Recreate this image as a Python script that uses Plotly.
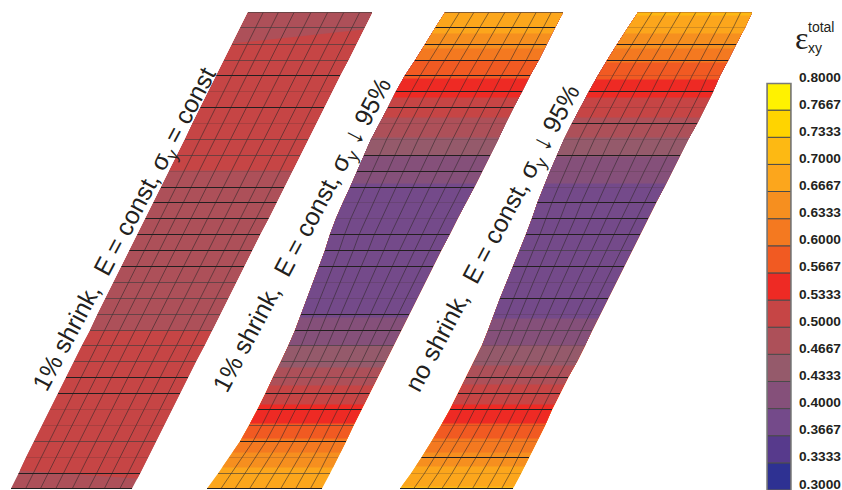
import plotly.graph_objects as go

# mesh row positions (same for all three specimens)
rows = [12,27,44,60,75,91,107,123,139,155,171,187,202,218,234,250,266,282,298,314,330,345,361,377,393,409,425,441,457,473,488]
col_fracs = [0,.122,.244,.371,.507,.642,.772,.9,1]

p1_left  = [248,240.5,232,224,216.5,208.5,200.5,192.5,185,177,169,161,153.5,145.5,137.5,129.5,121.5,113.5,105.5,97.5,90,82,74,66,58,50,42,34,26,18.5,11]
p1_right = [372,364.5,356,348,340,332,324,316,308,300,292,284,276.5,268.5,260,252,244,236,228,220,212,204.5,196,188,180,172,164,156,148,140,132]
p2_left  = [445,435.5,425,415,405,396,388,379.5,371,364,357,350,343,336,330,325,319,313,307,301,295,288.5,281,273,265.5,257.5,249,240,229,218,207]
p2_right = [563,555,546.5,538.5,530,522,513.5,505.5,498,490,482,474,466,457.5,449.5,441,433,425,417,409,401,393.5,385.5,377.5,369.5,361.5,353.5,346,338,330,322]
p3_left  = [638,628,617,607,598,589,580.5,572,564,557,550,543.5,537.5,532,526,519.5,513,506.5,500,494,488,482,474,466,458,450,441,431.5,421.5,411,400]
p3_right = [752,745,736,728,720,713,705,697,688,680,672,664,656,648,640,632,624,616,608,600,592,585,577,568,560,552,545,537,529,521,513]

# colour levels: lower bound of the band in the colour scale
levels = [0.3000,0.3333,0.3667,0.4000,0.4333,0.4667,0.5000,0.5333,0.5667,0.6000,0.6333,0.6667,0.7000,0.7333,0.7667]
level_colors = ["#2E3192","#573A8C","#744A8A","#85507A","#955A6B","#AD5059","#C64545","#EE2A24",
                "#F15A22","#F47920","#F68F1F","#FCA61C","#FDB913","#FFD400","#FFF200"]
tick_vals = [0.3000,0.3333,0.3667,0.4000,0.4333,0.4667,0.5000,0.5333,0.5667,0.6000,0.6333,0.6667,0.7000,0.7333,0.7667,0.8000]

# band index per strip: bottom boundary at left edge, at right edge, colour-level index
p1_bound_l = [43,170,330,470,488]
p1_bound_r = [29,170,330,478,488]
p1_band    = [5,6,5,6,5]
p2_bound   = [33,48,60,78,97,117,137,155,183,317,345,367,385,404,423,438,452,467,488]
p2_band    = [11,10,9,8,7,6,5,4,3,2,3,4,5,6,7,8,9,10,11]
p3_bound   = [15,33,48,62,79,97,117,137,156,183,318,345,365,384,404,423,438,452,466,486,488]
p3_band    = [12,11,10,9,8,7,6,5,4,3,2,3,4,5,6,7,8,9,10,11,12]

# style of each horizontal mesh line: 0 faint, 1 grey, 2 black
p1_lines = "1" "1" "1" "1" "2" "0" "2" "0" "1" "1" "0" "2" "2" "2" "2" "2" "2" "1" "1" "1" "1" "1" "1" "2" "2" "0" "0" "1" "0" "2" "2"
p2_lines = "1" "2" "2" "2" "2" "2" "2" "0" "0" "2" "2" "2" "0" "0" "2" "2" "2" "0" "0" "2" "2" "1" "1" "1" "2" "2" "1" "2" "0" "1" "2"
p3_lines = "0" "0" "2" "2" "0" "2" "0" "2" "0" "2" "0" "0" "2" "2" "2" "1" "2" "0" "2" "0" "1" "0" "0" "2" "2" "2" "0" "0" "2" "0" "2"

panel_labels = ["1% shrink,\u00a0 E = const, σ<sub>y</sub> = const",
                "1% shrink,\u00a0 E = const, σ<sub>y</sub> <span style='font-size:28px'>↓</span> 95%",
                "no shrink,\u00a0 E = const, σ<sub>y</sub> <span style='font-size:28px'>↓</span> 95%"]
clipped_title_letters = ["y", "g", "p", "p"]
clipped_title_x = [55, 119, 245, 372]

LINE_STYLES = {0: ("rgba(70,50,50,0.22)", 1), 1: ("rgba(60,60,60,0.62)", 1), 2: ("#231F20", 1)}


def edge(y, ys, xs):
    for i in range(len(ys) - 1):
        if ys[i] <= y <= ys[i + 1]:
            t = (y - ys[i]) / (ys[i + 1] - ys[i])
            return xs[i] + t * (xs[i + 1] - xs[i])
    return xs[0] if y < ys[0] else xs[-1]


def strip(y0, y1, ys, xs):
    pts = [y0] + [v for v in ys if y0 < v < y1] + [y1]
    return [edge(v, ys, xs) for v in pts], pts


fig = go.Figure()


def add_panel(left, right, bl, br, bands, styles):
    # lowest band first; each polygon runs up to the top so no seams are left between bands
    for yl, yr, b in reversed(list(zip(bl, br, bands))):
        xa, ya = strip(rows[0], yl, rows, left)
        xb, yb = strip(rows[0], yr, rows, right)
        fig.add_trace(go.Scatter(x=xa + xb[::-1] + [xa[0]], y=ya + yb[::-1] + [ya[0]], fill="toself",
                                 fillcolor=level_colors[b], mode="none", hoverinfo="skip", showlegend=False))
    vx, vy = [], []
    for f in col_fracs[1:-1]:
        for i, y in enumerate(rows):
            vx.append(left[i] + f * (right[i] - left[i]))
            vy.append(y)
        vx.append(None)
        vy.append(None)
    fig.add_trace(go.Scatter(x=vx, y=vy, mode="lines", line=dict(width=0.7, color="rgba(45,40,40,0.8)"),
                             hoverinfo="skip", showlegend=False))
    for s, (c, w) in LINE_STYLES.items():
        hx, hy = [], []
        for i, y in enumerate(rows):
            if int(styles[i]) == s:
                hx += [left[i], right[i], None]
                hy += [y, y, None]
        fig.add_trace(go.Scatter(x=hx, y=hy, mode="lines", line=dict(width=w, color=c),
                                 hoverinfo="skip", showlegend=False))


add_panel(p1_left, p1_right, p1_bound_l, p1_bound_r, p1_band, p1_lines)
add_panel(p2_left, p2_right, p2_bound, p2_bound, p2_band, p2_lines)
add_panel(p3_left, p3_right, p3_bound, p3_bound, p3_band, p3_lines)

# colour bar
step = [round(b - a, 4) for a, b in zip(tick_vals[:-1], tick_vals[1:])]
fig.add_trace(go.Bar(x=[0] * len(levels), y=step, base=levels, width=1, xaxis="x2", yaxis="y2",
                     marker=dict(color=level_colors, line=dict(color="#4a4a4a", width=1)),
                     hoverinfo="skip", showlegend=False))

W, H = 842, 490
bar_x0, bar_x1, bar_top = 767, 791, 83
ann = []
for t in tick_vals:
    ann.append(dict(x=797, y=t, xref="x", yref="y2", text=f"{t:.4f}", showarrow=False, xanchor="left",
                    yanchor="middle", yshift=6, font=dict(family="Liberation Sans", size=13.7, color="#231F20",
                                                          weight="bold")))
label_pos = [(125, 229), (302, 234), (492, 238)]
for txt, (x, y) in zip(panel_labels, label_pos):
    ann.append(dict(x=x, y=y, xref="x", yref="y", text=txt, showarrow=False, textangle=-62,
                    font=dict(family="Liberation Sans", size=25, color="#231F20")))
for ch, x in zip(clipped_title_letters, clipped_title_x):
    ann.append(dict(x=x, y=1.5, xref="x", yref="y", text=ch, showarrow=False, yanchor="bottom",
                    font=dict(family="Liberation Serif", size=22, color="#231F20", weight="bold")))
ann.append(dict(x=801, y=37, xref="x", yref="y", text="ε", showarrow=False,
                font=dict(family="Liberation Serif", size=32, color="#231F20")))
ann.append(dict(x=821, y=26, xref="x", yref="y", text="total", showarrow=False,
                font=dict(family="Liberation Sans", size=14, color="#231F20")))
ann.append(dict(x=815, y=47, xref="x", yref="y", text="xy", showarrow=False,
                font=dict(family="Liberation Sans", size=14, color="#231F20")))

fig.update_layout(
    width=W, height=H, margin=dict(l=0, r=0, t=0, b=0), paper_bgcolor="white", plot_bgcolor="white",
    xaxis=dict(range=[0, W], domain=[0, 1], visible=False, fixedrange=True),
    yaxis=dict(range=[H - 0.5, -0.5], domain=[0, 1], visible=False, fixedrange=True),
    xaxis2=dict(range=[-0.5, 0.5], domain=[bar_x0 / W, bar_x1 / W], visible=False, anchor="y2"),
    yaxis2=dict(range=[0.3, 0.8], domain=[0, (H - bar_top) / H], visible=False, anchor="x2"),
    annotations=ann, barmode="overlay",
    shapes=[dict(type="rect", xref="x", yref="y", x0=bar_x0, x1=bar_x1, y0=bar_top, y1=H,
                 line=dict(color="#7a7a7a", width=1.5))],
)
fig.write_html("out.html", config=dict(displayModeBar=False),
               post_script="document.body.style.margin='0';document.body.style.overflow='hidden';")
